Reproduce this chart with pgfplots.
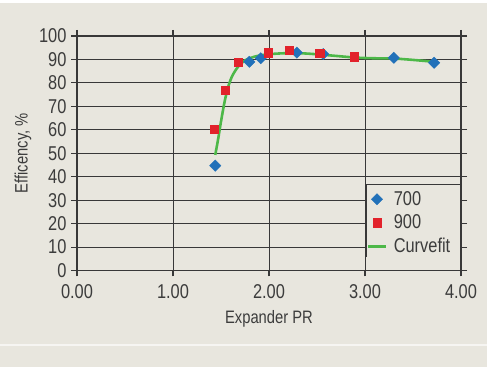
\documentclass[border=0pt]{standalone}
\usepackage{pgfplots}
\pgfplotsset{compat=1.18}
\usepackage{fontspec}
\setmainfont{Liberation Sans}[FakeStretch=0.82]
\definecolor{bg}{HTML}{E8E6DE}
\definecolor{txt}{HTML}{3C3C3C}
\definecolor{gridc}{HTML}{383838}
\definecolor{cblue}{HTML}{2271B9}
\definecolor{cred}{HTML}{E2222B}
\definecolor{cgreen}{HTML}{4DB848}
\begin{document}
\begin{tikzpicture}
\fill[bg] (0bp,0bp) rectangle (487bp,377bp);
\fill[white] (0bp,374bp) rectangle (487bp,377bp);
\fill[white!60!bg] (0bp,31bp) rectangle (487bp,33bp);
\fill[white] (0bp,0bp) rectangle (487bp,10bp);
\useasboundingbox (0bp,0bp) rectangle (487bp,377bp);
\begin{axis}[
  at={(77bp,106.5bp)}, anchor=south west,
  scale only axis, width=384bp, height=234.5bp,
  xmin=0, xmax=4, ymin=0, ymax=100,
  xtick={0,1,2,3,4}, ytick={0,10,...,100},
  /pgf/number format/assume math mode=true,
  xticklabel style={/pgf/number format/.cd, fixed, fixed zerofill, precision=2, /tikz/.cd, yshift=-5bp},
  yticklabel style={xshift=-1bp},
  tick label style={font=\fontsize{20bp}{22bp}\selectfont, text=txt},
  tick align=outside, major tick length=6bp,
  tick style={gridc, line width=1.1pt},
  grid=major,
  major grid style={gridc, line width=0.85pt},
  axis line style={gridc, line width=1.2pt},
  axis background/.style={fill=bg},
  xlabel={Expander PR},
  ylabel={Efficency, \%},
  every axis x label/.style={at={(axis description cs:0.5,-0.2047)}, anchor=center, font=\fontsize{18bp}{20bp}\selectfont, text=txt},
  every axis y label/.style={at={(axis description cs:-0.1406,0.5)}, rotate=90, anchor=center, font=\fontsize{18bp}{20bp}\selectfont, text=txt},
  legend style={draw=none, fill=none, at={(axis description cs:0.7526,0.3676)}, anchor=north west,
    font=\fontsize{20bp}{22bp}\selectfont, text=txt, row sep=4bp, inner xsep=1bp, inner ysep=5bp},
  legend cell align=left,
  clip=false,
]
\addplot[cgreen, line width=2.6pt, smooth, forget plot] coordinates {
(1.44,49.3) (1.47,56) (1.50,63.5) (1.54,72.5) (1.58,79) (1.62,83.2) (1.68,87.0)
(1.75,89.6) (1.85,91.2) (1.95,92.0) (2.05,92.4) (2.2,92.7) (2.35,92.6) (2.5,92.2)
(2.7,91.5) (2.9,90.8) (3.1,90.5) (3.3,90.4) (3.5,89.8) (3.72,89.0)};
\addplot[only marks, mark=square*, mark size=4bp, mark options={rotate=45, fill=cblue, draw=cblue}] coordinates {
(1.44,44.7) (1.795,89.0) (1.914,90.5) (2.29,92.9) (2.565,92.3) (3.30,90.7) (3.72,88.6)};
\addlegendentry{\hspace{5bp}700}
\addplot[only marks, mark=square*, mark size=4.2bp, mark options={fill=cred, draw=cred}] coordinates {
(1.427,60.3) (1.542,77.0) (1.68,88.8) (1.993,92.9) (2.21,94.0) (2.53,92.6) (2.886,91.2)};
\addlegendentry{\hspace{5bp}900}
\fill[bg] (rel axis cs:0.7526,0.0589) rectangle (rel axis cs:1,0.3676);
\draw[gridc, line width=1.1pt] (rel axis cs:0.7526,0.0589) |- (rel axis cs:1,0.3676);
\draw[gridc, line width=1.2pt] (rel axis cs:1,0) -- (rel axis cs:1,1);
\addlegendimage{cgreen, line width=2.6pt}
\addlegendentry{\hspace{5bp}Curvefit}
\end{axis}
\end{tikzpicture}
\end{document}
